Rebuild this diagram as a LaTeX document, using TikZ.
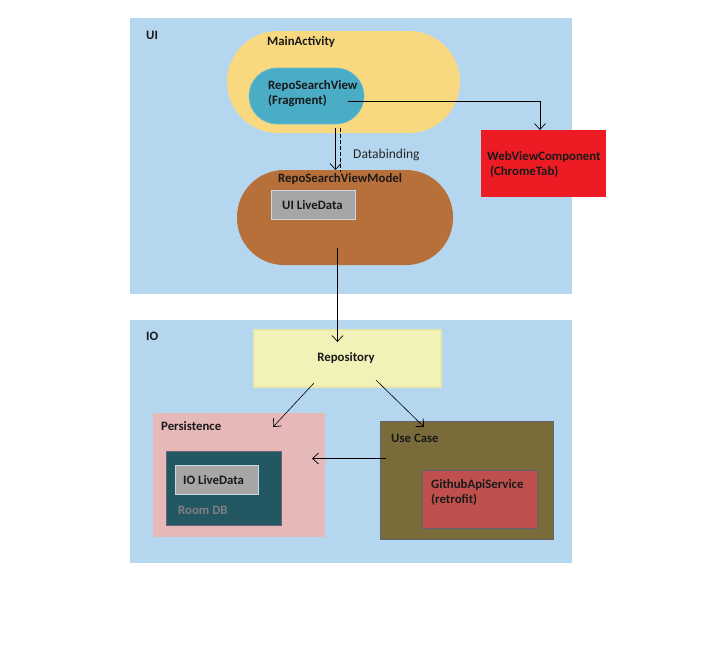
\documentclass[tikz,border=0pt]{standalone}
\usepackage{fontspec}
\setmainfont{Carlito}
\usetikzlibrary{arrows.meta,calc}
\definecolor{panel}{HTML}{B4D6EE}
\definecolor{mainc}{HTML}{F9D97F}
\definecolor{fragc}{HTML}{4BACC6}
\definecolor{vmc}{HTML}{B8703A}
\definecolor{grayc}{HTML}{A6A6A6}
\definecolor{grayb}{HTML}{C8D8E4}
\definecolor{webc}{HTML}{ED1C24}
\definecolor{repoc}{HTML}{F2F2B8}
\definecolor{repob}{HTML}{E8E8A8}
\definecolor{persc}{HTML}{E6B9B8}
\definecolor{roomc}{HTML}{235762}
\definecolor{ucc}{HTML}{7A6B3B}
\definecolor{ghc}{HTML}{C0504D}
\definecolor{boxb}{HTML}{5F6470}
\tikzset{
  box/.style={draw=none,inner sep=0pt,outer sep=0pt},
  lbl/.style={inner sep=0pt,anchor=west,font=\fontsize{12.8}{15}\selectfont\bfseries,text=black!90,align=left},
  arr/.style={line width=0.7pt,-{Straight Barb[length=6pt,width=11pt,line width=0.7pt]}},
  plain/.style={line width=0.7pt}
}
\begin{document}
\begin{tikzpicture}[x=1pt,y=-1pt]
\useasboundingbox[fill=white] (0,0) rectangle (725,670);
% panels
\node[box,fill=panel,minimum width=442pt,minimum height=276pt] (uip) at (351,156) {};
\node[box,fill=panel,minimum width=442pt,minimum height=243pt] (iop) at (351,441.5) {};
\node[lbl] (uil) at (146,35) {UI};
\node[lbl] (iol) at (146,336) {IO};
% UI
\node[box,fill=mainc,rounded corners=51pt,minimum width=233pt,minimum height=102pt] (main) at (343.5,82) {};
\node[lbl] (mainl) at (267,42) {MainActivity};
\node[box,fill=fragc,draw=fragc!80!white,line width=0.6pt,rounded corners=28pt,minimum width=115pt,minimum height=56pt] (frag) at (306.5,96) {};
\node[lbl] (fragl) at (268,93.5) {RepoSearchView\\(Fragment)};
\node[box,fill=webc,minimum width=125pt,minimum height=67pt] (web) at (543.5,163.5) {};
\node[lbl] (webl) at (487,164) {WebViewComponent\\\ (ChromeTab)};
\node[box,fill=vmc,rounded corners=47pt,minimum width=216pt,minimum height=95pt] (vm) at (345,217.5) {};
\node[lbl] (vml) at (278,179) {RepoSearchViewModel};
\node[box,fill=grayc,draw=grayb,line width=0.8pt,minimum width=84pt,minimum height=29pt] (uild) at (313,204.5) {};
\node[lbl] (uildl) at (282,205) {UI LiveData};
\node[lbl,font=\fontsize{13.5}{15}\selectfont,text=black!85] (dbl) at (353,155) {Databinding};
% IO
\node[box,fill=repoc,draw=repob,line width=1.5pt,minimum width=187pt,minimum height=57pt] (repo) at (347.5,358.5) {};
\node[lbl,anchor=center] (repol) at (346,358) {Repository};
\node[box,fill=persc,minimum width=172pt,minimum height=124pt] (pers) at (239,475) {};
\node[lbl] (persl) at (161,426) {Persistence};
\node[box,fill=roomc,draw=boxb,line width=0.6pt,minimum width=115pt,minimum height=74pt] (room) at (223.5,488) {};
\node[box,fill=grayc,draw=grayb,line width=0.8pt,minimum width=83pt,minimum height=29pt] (iold) at (216.5,479.5) {};
\node[lbl] (ioldl) at (183,480) {IO LiveData};
\node[lbl,text=black!50] (rooml) at (178,510) {Room DB};
\node[box,fill=ucc,draw=boxb,line width=0.6pt,minimum width=173pt,minimum height=118pt] (uc) at (466.5,480) {};
\node[lbl] (ucl) at (391,438) {Use Case};
\node[box,fill=ghc,draw=boxb,line width=0.6pt,minimum width=115pt,minimum height=58pt] (gh) at (479.5,499) {};
\node[lbl] (ghl) at (431,492) {GithubApiService\\(retrofit)};
% connectors
\coordinate (fragout) at (348,101);
\draw[arr] (fragout) -| ([xshift=-3.5pt]web.north);
\coordinate (db1) at (335.5,128);
\coordinate (db2) at (340.5,128);
\draw[arr] (db1) -- (db1 |- vm.north);
\draw[plain,dash pattern=on 4pt off 2pt] (db2) -- ([yshift=-2pt]db2 |- vm.north);
\coordinate (vmout) at (337.5,248);
\coordinate (repoin) at (337.5,342);
\draw[arr] (vmout) -- (repoin);
\coordinate (r1) at (314,383);
\coordinate (p1) at (273,427);
\draw[arr,line width=0.6pt] (r1) -- (p1);
\coordinate (r2) at (376,380);
\coordinate (u1) at (424,427);
\draw[arr,line width=0.6pt] (r2) -- (u1);
\coordinate (u2) at (386,458.5);
\coordinate (p2) at (312,458.5);
\draw[arr] (u2) -- (p2);
\end{tikzpicture}
\end{document}
